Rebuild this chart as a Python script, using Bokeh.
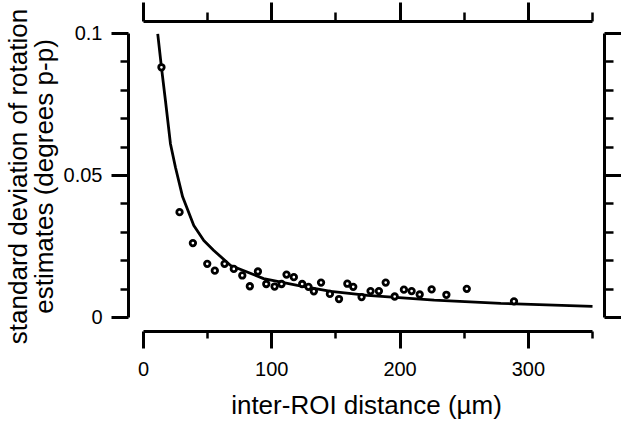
from bokeh.plotting import figure
from bokeh.models import LinearAxis, FixedTicker, Range1d, NumeralTickFormatter
from bokeh.embed import file_html
from bokeh.resources import INLINE

# measured points: inter-ROI distance (um) vs SD of rotation estimates (deg p-p)
dist = [14.0, 28.1, 38.5, 49.7, 55.6, 63.2, 70.4, 77.0, 82.9, 89.2, 95.7, 102.2,
        107.6, 111.5, 117.2, 123.7, 128.6, 132.8, 138.4, 145.3, 152.4, 158.9,
        163.5, 170.0, 177.0, 183.5, 188.8, 195.8, 203.0, 209.0, 215.3, 224.6,
        236.1, 252.0, 288.8]
sd = [0.0881, 0.0371, 0.0262, 0.0189, 0.0165, 0.0189, 0.0171, 0.0148, 0.0110,
      0.0162, 0.0118, 0.0109, 0.0118, 0.0151, 0.0142, 0.0118, 0.0108, 0.0092,
      0.0123, 0.0083, 0.0065, 0.0119, 0.0108, 0.0072, 0.0093, 0.0093, 0.0123,
      0.0074, 0.0098, 0.0093, 0.0081, 0.0099, 0.0080, 0.0101, 0.0057]

# fitted curve
fit_x = [11.1, 14.0, 17.1, 21.0, 24.9, 30.5, 39.2, 47.0, 54.8, 67.9, 93.6,
         120.0, 146.0, 174.5, 226.6, 278.5, 350.0]
fit_y = [0.0999, 0.0881, 0.0764, 0.0612, 0.0529, 0.0425, 0.0324, 0.0271,
         0.0236, 0.0183, 0.0137, 0.0113, 0.0092, 0.0078, 0.0061, 0.0050, 0.0039]

x_ticks = [0, 100, 200, 300]
x_minor = [50, 150, 250, 350]
y_ticks = [0, 0.05, 0.1]
y_minor = [0.01, 0.02, 0.03, 0.04, 0.06, 0.07, 0.08, 0.09]

x_title = "inter-ROI distance (\u00b5m)"
y_title = "standard deviation of rotation\nestimates (degrees p-p)"

FONT = "Liberation Sans"

p = figure(width=621, height=425, output_backend="svg", toolbar_location=None,
           x_range=Range1d(-11.69, 359.35), y_range=Range1d(-0.00493, 0.104225),
           min_border_left=128, min_border_right=17, min_border_top=21,
           min_border_bottom=94, x_axis_location=None, y_axis_location=None)
p.outline_line_color = None
p.grid.visible = False
p.background_fill_color = "white"
p.border_fill_color = "white"


def make_axis(ticks, minor, bounds, tick_out, minor_out, labels):
    ax = LinearAxis(ticker=FixedTicker(ticks=ticks, minor_ticks=minor), bounds=bounds)
    ax.axis_line_width = 3
    ax.axis_line_color = "black"
    ax.major_tick_line_width = 3
    ax.major_tick_line_color = "black"
    ax.minor_tick_line_width = 2.5
    ax.minor_tick_line_color = "black"
    ax.major_tick_in = 0
    ax.minor_tick_in = 0
    ax.major_tick_out = tick_out
    ax.minor_tick_out = minor_out
    if labels:
        ax.major_label_text_font = FONT
        ax.major_label_text_font_size = "20px"
        ax.major_label_text_color = "black"
    else:
        ax.major_label_text_color = None
        ax.major_label_standoff = 0
    ax.axis_label_text_font = FONT
    ax.axis_label_text_font_style = "normal"
    ax.axis_label_text_color = "black"
    return ax


bottom = make_axis(x_ticks, x_minor, (0, 350), 17, 7, True)
bottom.major_label_standoff = 13
bottom.axis_label = x_title
bottom.axis_label_text_font_size = "26px"
bottom.axis_label_standoff = 11
p.add_layout(bottom, "below")

top = make_axis(x_ticks, x_minor, (0, 350), 19, 9, False)
p.add_layout(top, "above")

left = make_axis(y_ticks, y_minor, (0, 0.1), 17, 8, True)
left.formatter = NumeralTickFormatter(format="0.[00]")
left.major_label_standoff = 9
left.axis_label = y_title
left.axis_label_text_font_size = "26px"
left.axis_label_text_line_height = 0.85
left.axis_label_standoff = 2
p.add_layout(left, "left")

right = make_axis(y_ticks, y_minor, (0, 0.1), 17, 9, False)
p.add_layout(right, "right")

p.line(fit_x, fit_y, line_color="black", line_width=2.8)
p.scatter(dist, sd, marker="circle", size=5.5, fill_color="white",
          line_color="black", line_width=2.8)

open("out.html", "w").write(file_html(p, INLINE))
